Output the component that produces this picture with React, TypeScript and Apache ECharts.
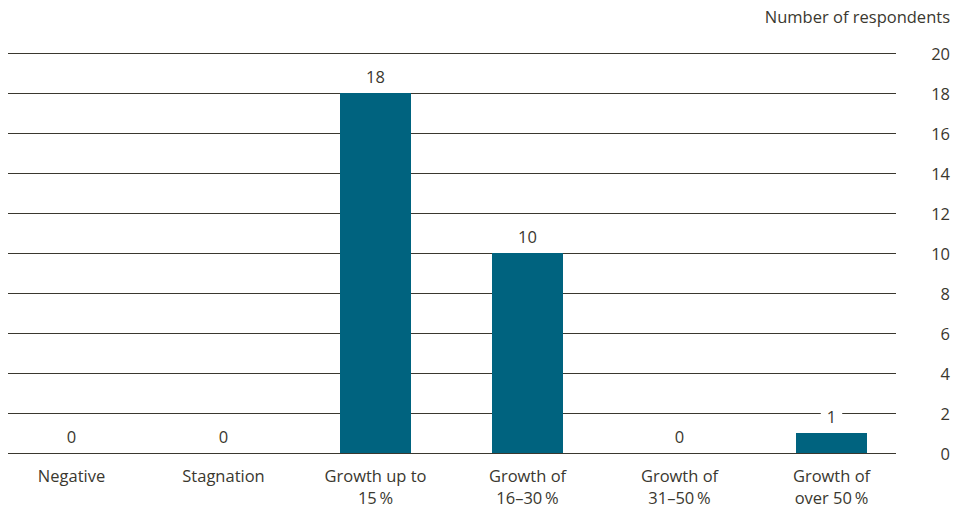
import React, { useEffect, useRef } from "react";
import * as echarts from "echarts";

const categories = [
  "Negative",
  "Stagnation",
  "Growth up to\n15\u2009%",
  "Growth of\n16\u201330\u2009%",
  "Growth of\n31\u201350\u2009%",
  "Growth of\nover 50\u2009%",
];
const respondents = [0, 0, 18, 10, 0, 1];
const yTicks = [0, 2, 4, 6, 8, 10, 12, 14, 16, 18, 20];
const axisTitle = "Number of respondents";

const TEXT = "#3a382f";
const FONT = "'Open Sans', sans-serif";
const FS = 16.5;

export default function App() {
  const ref = useRef<HTMLDivElement>(null);
  useEffect(() => {
    const chart = echarts.init(ref.current!, null, { renderer: "svg" });
    chart.setOption({
      animation: false,
      textStyle: { fontFamily: FONT, color: TEXT },
      title: {
        text: axisTitle,
        right: 4,
        top: 8,
        padding: 0,
        textStyle: { fontFamily: FONT, fontSize: 16.5, fontWeight: "normal", color: TEXT },
      },
      grid: [
        { left: -4.5, right: 46.5, top: 53, bottom: 55, outerBoundsMode: "none", containLabel: false },
        { left: 8, right: 58, top: 53, bottom: 55, outerBoundsMode: "none", containLabel: false },
      ],
      xAxis: [
        {
          type: "category",
          gridIndex: 0,
          data: categories,
          axisLine: { show: false },
          axisTick: { show: false },
          axisLabel: {
            color: TEXT,
            fontFamily: FONT,
            fontSize: FS,
            lineHeight: 22,
            margin: 11,
            interval: 0,
          },
        },
        { type: "category", gridIndex: 1, data: categories, show: false },
      ],
      yAxis: [
        { type: "value", gridIndex: 0, min: 0, max: 20, interval: 2, show: false },
        {
          type: "value",
          gridIndex: 1,
          position: "right",
          min: yTicks[0],
          max: yTicks[yTicks.length - 1],
          interval: 2,
          axisLine: { show: false },
          axisTick: { show: false },
          splitLine: { show: true, lineStyle: { color: TEXT, width: 1 } },
          axisLabel: {
            color: TEXT,
            fontFamily: FONT,
            fontSize: FS,
            align: "right",
            margin: 54,
          },
        },
      ],
      series: [
        {
          type: "bar",
          xAxisIndex: 0,
          yAxisIndex: 0,
          data: respondents,
          barWidth: 71,
          z: 5,
          itemStyle: { color: "#00637f" },
          label: {
            show: true,
            position: "top",
            distance: 8,
            color: TEXT,
            fontFamily: FONT,
            fontSize: FS,
            backgroundColor: "#ffffff",
            padding: [0, 6],
          },
        },
      ],
    });
    return () => chart.dispose();
  }, []);
  return (
    <div
      ref={ref}
      style={{ position: "absolute", left: 0, top: 0, width: 954, height: 508, background: "#fff" }}
    />
  );
}
